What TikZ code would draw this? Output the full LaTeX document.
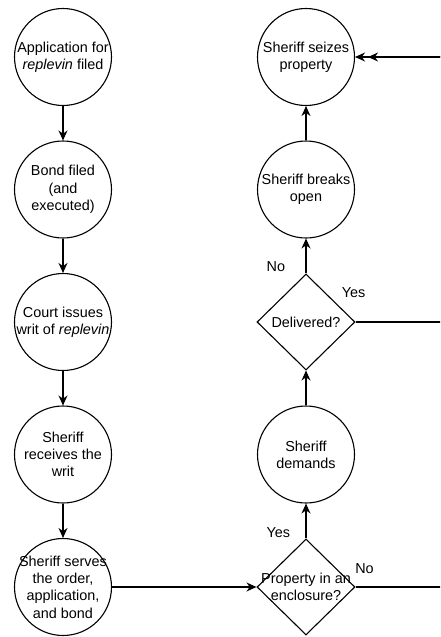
\documentclass[tikz,border=0pt]{standalone}
\usepackage{fontspec}
\setmainfont{Liberation Sans}
\usetikzlibrary{shapes.geometric, arrows.meta, positioning}

\tikzstyle{tag} = [font=\fontsize{14.4}{17.3}\selectfont]
\tikzstyle{stage} = [circle, 
minimum size=97pt, 
inner sep=0pt, 
draw=black, 
line width=1.1pt]
\tikzstyle{decision} = [diamond, 
minimum width=98pt, 
minimum height=96pt, 
inner sep=0pt, 
draw=black, 
line width=1.1pt]
\tikzstyle{arrow} = [line width=1.1pt,-{Stealth[length=10pt,width=9pt]}]

\begin{document}
\begin{tikzpicture}[node distance=132.5pt, every label/.style={align=center, tag}]
\useasboundingbox (0,0) rectangle (440pt,-637pt);
\clip (0,0) rectangle (440pt,-637pt);

\node (app) [stage, label=center:{Application for\\\textit{replevin} filed}] at (63pt,-57pt) {};
\node (bond) [stage, below of=app, label=center:{Bond filed\\(and\\executed)}] {};
\node (writ) [stage, below of=bond, label=center:{Court issues\\writ of \textit{replevin}}] {};
\node (recv) [stage, below of=writ, label=center:{Sheriff\\receives the\\writ}] {};
\node (serve) [stage, below of=recv, label=center:{Sheriff serves\\the order,\\application,\\and bond}] {};

\node (encl) [decision, right of=serve, xshift=110.5pt, label=center:{Property in an\\enclosure?}] {};
\node (demand) [stage, above of=encl, label=center:{Sheriff\\demands}] {};
\node (deliv) [decision, above of=demand, label=center:{Delivered?}] {};
\node (breaks) [stage, above of=deliv, label=center:{Sheriff breaks\\open}] {};
\node (seize) [stage, above of=breaks, label=center:{Sheriff seizes\\property}] {};

% return line runs off the right edge
\coordinate (rim) at (460pt,-57pt);

\draw [arrow] (app) -- (bond);
\draw [arrow] (bond) -- (writ);
\draw [arrow] (writ) -- (recv);
\draw [arrow] (recv) -- (serve);
\draw [arrow] (serve) -- (encl);

\draw [arrow] (encl) -- node[tag, pos=0.16, left=12pt] {Yes} (demand);
\draw [arrow] (demand) -- (deliv);
\draw [arrow] (deliv) -- node[tag, pos=0.2, left=17pt] {No} (breaks);
\draw [arrow] (breaks) -- (seize);

\draw [arrow] (deliv) -| node[tag, at start, xshift=-2pt, yshift=29pt] {Yes} (rim) -- (seize);
\draw [arrow, shorten >=13pt] (encl) -| node[tag, at start, xshift=9pt, yshift=18pt] {No} (rim) -- (seize);

\end{tikzpicture}
\end{document}
